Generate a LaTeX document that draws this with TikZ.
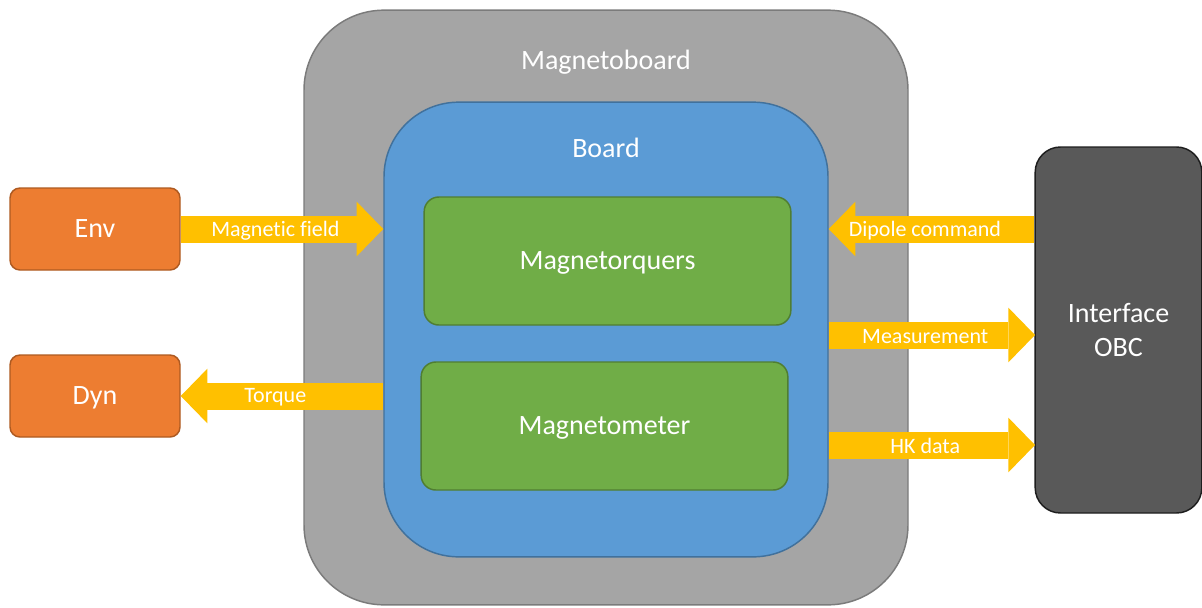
\documentclass[tikz,border=0pt]{standalone}
\usepackage{fontspec}
\setmainfont{Carlito}[Ligatures=CommonOff]
\usetikzlibrary{arrows.meta}

\definecolor{mbfill}{HTML}{A5A5A5}
\definecolor{mbedge}{HTML}{7B7B7B}
\definecolor{bdfill}{HTML}{5B9BD5}
\definecolor{bdedge}{HTML}{41719C}
\definecolor{grfill}{HTML}{70AD47}
\definecolor{gredge}{HTML}{507E32}
\definecolor{orfill}{HTML}{ED7D31}
\definecolor{oredge}{HTML}{AE5A21}
\definecolor{obcfill}{HTML}{595959}
\definecolor{obcedge}{HTML}{1E1E1E}
\definecolor{flowcol}{HTML}{FFC000}

\tikzset{
    box/.style={draw, line width=1.1pt, inner sep=0pt, text=white,
        font=\fontsize{21}{25}\selectfont, align=center, text depth=0pt},
    title/.style={text=white, font=\fontsize{21}{25}\selectfont},
    flow/.style={draw=flowcol, line width=20.25pt,
        -{Triangle[length=20pt, width=41pt, line width=0pt]}},
    flowlabel/.style={text=white, font=\fontsize{16.5}{19}\selectfont, yshift=-1pt}
}

\begin{document}
\begin{tikzpicture}[x=0.75pt, y=-0.75pt]
    \useasboundingbox (0,0) rectangle (1202,607);
    % Draw the nested boards
    \node[box, fill=mbfill, draw=mbedge, minimum width=453pt, minimum height=446pt,
        rounded corners=60pt] (mboard) at (606,307.5) {};
    \node[title] (mboardtitle) at (606,62) {Magnetoboard};
    \node[box, fill=bdfill, draw=bdedge, minimum width=333pt, minimum height=341pt,
        rounded corners=56pt] (board) at (606,329.5) {};
    \node[title] (boardtitle) at (606,148) {Board};
    % Draw the components
    \node[box, fill=grfill, draw=gredge, minimum width=275pt, minimum height=96pt,
        rounded corners=11pt] (torquers) at (607.5,261) {Magnetorquers};
    \node[box, fill=grfill, draw=gredge, minimum width=275pt, minimum height=96pt,
        rounded corners=11pt] (meter) at (604.5,426) {Magnetometer};
    % Draw the outside blocks
    \node[box, fill=orfill, draw=oredge, minimum width=127.5pt, minimum height=61.5pt,
        rounded corners=7.5pt] (env) at (95,229) {Env};
    \node[box, fill=orfill, draw=oredge, minimum width=127.5pt, minimum height=61.5pt,
        rounded corners=7.5pt] (dyn) at (95,396) {Dyn};
    \node[box, fill=obcfill, draw=obcedge, minimum width=125pt, minimum height=274.5pt,
        rounded corners=19pt] (obc) at (1118.5,330) {Interface\\OBC};
    % Draw the flows
    \coordinate (meas) at (1035,335);
    \coordinate (hk) at (1035,445);
    \draw[flow] (env.east) -- (board.west |- env.east)
        node[flowlabel, midway, xshift=-5pt] {Magnetic field};
    \draw[flow] (board.west |- dyn.east) -- (dyn.east)
        node[flowlabel, midway, xshift=-5pt] {Torque};
    \draw[flow] (obc.west |- env.east) -- (board.east |- env.east)
        node[flowlabel, midway, xshift=-5pt] {Dipole command};
    \draw[flow] (board.east |- meas) -- (meas)
        node[flowlabel, midway, xshift=-5pt] {Measurement};
    \draw[flow] (board.east |- hk) -- (hk)
        node[flowlabel, midway, xshift=-5pt] {HK data};
\end{tikzpicture}
\end{document}
